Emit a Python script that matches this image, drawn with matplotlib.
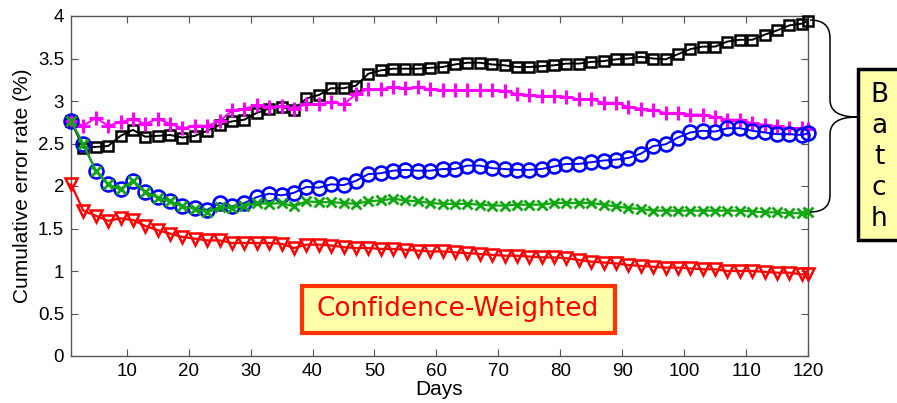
import matplotlib
matplotlib.use("Agg")
import matplotlib.pyplot as plt
from matplotlib.patches import Rectangle, PathPatch
from matplotlib.path import Path

W, H = 897, 403

# sample days (every second day, plus the last one)
days = list(range(1, 120, 2)) + [120]

black_sq = [2.76, 2.45, 2.46, 2.47, 2.59, 2.66, 2.58, 2.59, 2.60, 2.57,
            2.59, 2.65, 2.72, 2.76, 2.78, 2.86, 2.91, 2.93, 2.89, 3.03,
            3.07, 3.15, 3.15, 3.18, 3.32, 3.36, 3.38, 3.38, 3.38, 3.39,
            3.40, 3.43, 3.45, 3.45, 3.43, 3.42, 3.40, 3.40, 3.41, 3.42,
            3.44, 3.44, 3.46, 3.47, 3.49, 3.50, 3.52, 3.50, 3.49, 3.55,
            3.61, 3.64, 3.64, 3.70, 3.72, 3.72, 3.78, 3.83, 3.89, 3.91,
            3.94]

magenta_plus = [2.76, 2.71, 2.80, 2.71, 2.75, 2.79, 2.73, 2.79, 2.73, 2.68,
                2.71, 2.71, 2.76, 2.89, 2.91, 2.95, 2.93, 2.94, 2.91, 2.96,
                2.96, 2.99, 2.96, 3.08, 3.14, 3.14, 3.16, 3.15, 3.16, 3.14,
                3.13, 3.13, 3.13, 3.13, 3.13, 3.12, 3.08, 3.07, 3.06, 3.06,
                3.05, 3.02, 3.02, 2.98, 2.98, 2.93, 2.91, 2.89, 2.86, 2.86,
                2.84, 2.84, 2.81, 2.78, 2.78, 2.74, 2.72, 2.70, 2.68, 2.68,
                2.67]

blue_circ = [2.76, 2.49, 2.18, 2.02, 1.96, 2.06, 1.93, 1.87, 1.82, 1.76,
             1.74, 1.72, 1.80, 1.76, 1.80, 1.87, 1.91, 1.89, 1.92, 1.99,
             1.98, 2.02, 2.01, 2.06, 2.14, 2.15, 2.18, 2.19, 2.18, 2.18,
             2.20, 2.20, 2.24, 2.24, 2.21, 2.20, 2.19, 2.19, 2.20, 2.23,
             2.26, 2.26, 2.28, 2.30, 2.31, 2.33, 2.38, 2.47, 2.49, 2.57,
             2.63, 2.65, 2.64, 2.68, 2.68, 2.65, 2.63, 2.61, 2.61, 2.60,
             2.62]

green_x = [2.76, 2.49, 2.18, 2.02, 1.96, 2.06, 1.93, 1.86, 1.82, 1.76,
           1.73, 1.69, 1.75, 1.74, 1.76, 1.80, 1.79, 1.80, 1.76, 1.82,
           1.81, 1.81, 1.80, 1.79, 1.82, 1.83, 1.85, 1.83, 1.82, 1.80,
           1.79, 1.79, 1.79, 1.78, 1.77, 1.77, 1.78, 1.78, 1.78, 1.80,
           1.80, 1.80, 1.80, 1.78, 1.76, 1.74, 1.73, 1.71, 1.71, 1.71,
           1.71, 1.71, 1.71, 1.71, 1.71, 1.70, 1.69, 1.69, 1.68, 1.68,
           1.69]

red_tri = [2.02, 1.71, 1.65, 1.59, 1.62, 1.60, 1.53, 1.48, 1.44, 1.40,
           1.38, 1.36, 1.36, 1.33, 1.33, 1.33, 1.33, 1.32, 1.27, 1.31,
           1.31, 1.30, 1.28, 1.27, 1.27, 1.26, 1.26, 1.25, 1.24, 1.23,
           1.23, 1.22, 1.21, 1.20, 1.19, 1.18, 1.18, 1.17, 1.16, 1.16,
           1.15, 1.13, 1.11, 1.10, 1.09, 1.07, 1.06, 1.05, 1.04, 1.04,
           1.03, 1.02, 1.02, 1.00, 1.00, 1.00, 0.99, 0.98, 0.98, 0.96,
           0.96]

x_ticks = [10, 20, 30, 40, 50, 60, 70, 80, 90, 100, 110, 120]
y_ticks = [0, 0.5, 1, 1.5, 2, 2.5, 3, 3.5, 4]
y_tick_labels = ["0", "0.5", "1", "1.5", "2", "2.5", "3", "3.5", "4"]

plt.rcParams["font.family"] = ["Liberation Sans", "DejaVu Sans"]


def px(x, y):
    # pixel position (y from top) -> figure fraction
    return (x / W, 1 - y / H)


fig = plt.figure(figsize=(W / 100, H / 100), dpi=100)
ax = fig.add_axes([71 / W, 1 - 356 / H, (808 - 71) / W, (356 - 16) / H])

ax.plot(days, black_sq, color="k", lw=1.4, marker="s", ms=7.5,
        mfc="none", mew=1.8, clip_on=False, zorder=3)
ax.plot(days, magenta_plus, color="#ff00ff", lw=1.4, marker="+", ms=10,
        mew=2.2, clip_on=False, zorder=3)
ax.plot(days, blue_circ, color="#0000ff", lw=1.4, marker="o", ms=10,
        mfc="none", mew=1.9, clip_on=False, zorder=4)
ax.plot(days, green_x, color="#10a810", lw=1.6, marker="x", ms=7,
        mew=2.0, clip_on=False, zorder=5)
ax.plot(days, red_tri, color="#ff0000", lw=1.6, marker="v", ms=9,
        mfc="none", mew=1.8, clip_on=False, zorder=6)

ax.set_xlim(1, 120)
ax.set_ylim(0, 4)
ax.set_xticks(x_ticks)
ax.set_yticks(y_ticks)
ax.set_yticklabels(y_tick_labels)
ax.tick_params(direction="in", length=5, width=0.8, top=True, right=True,
               labelsize=13.5, pad=5, color="#555555")
for sp in ax.spines.values():
    sp.set_color("#555555")
    sp.set_linewidth(1)
ax.set_xlabel("Days", fontsize=15, labelpad=0)
ax.set_ylabel("Cumulative error rate (%)", fontsize=15, labelpad=4)

# Confidence-Weighted box
x0, y0 = px(302, 333)
x1, y1 = px(615, 286)
fig.patches.append(Rectangle((x0, y0), x1 - x0, y1 - y0,
                             transform=fig.transFigure, facecolor="#ffffaa",
                             edgecolor="#ff3300", lw=3, zorder=10))
cx, cy = px(458, 309)
fig.text(cx, cy, "Confidence-Weighted", color="#ff0000", fontsize=19,
         family="DejaVu Sans", ha="center", va="center", zorder=11)

# Batch box
bx0, by0 = px(858, 240)
bx1, by1 = px(905, 69)
fig.patches.append(Rectangle((bx0, by0), bx1 - bx0, by1 - by0,
                             transform=fig.transFigure, facecolor="#ffffaa",
                             edgecolor="black", lw=2.5, zorder=10))
tx, ty = px(879, 157)
fig.text(tx, ty, "B\na\nt\nc\nh", color="black", fontsize=19,
         family="DejaVu Sans", ha="center", va="center", linespacing=1.25,
         zorder=11)

# curly brace from top of black curve to end of green curve
verts = [px(810, 20), px(830, 20), px(830, 38), px(830, 100),
         px(830, 117), px(857, 117),
         px(830, 117), px(830, 134), px(830, 195),
         px(830, 212), px(810, 212)]
codes = [Path.MOVETO, Path.CURVE3, Path.CURVE3, Path.LINETO,
         Path.CURVE3, Path.CURVE3,
         Path.CURVE3, Path.CURVE3, Path.LINETO,
         Path.CURVE3, Path.CURVE3]
fig.patches.append(PathPatch(Path(verts, codes), transform=fig.transFigure,
                             facecolor="none", edgecolor="black", lw=1.1,
                             zorder=9))

fig.savefig("out.png", dpi=100)
